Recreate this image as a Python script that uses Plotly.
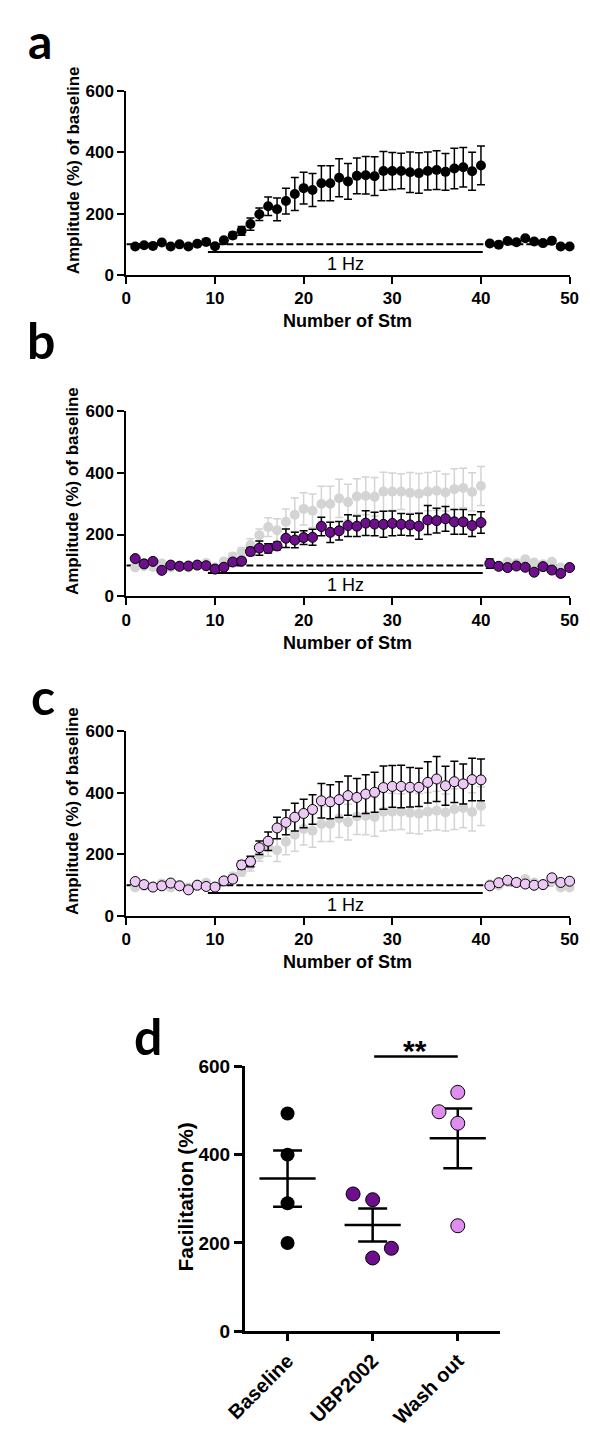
import plotly.graph_objects as go
import numpy as np

# ---------------- data ----------------
stim = list(range(1, 51))

ctrl_mean = [93, 97, 95, 106, 93, 100, 93, 102, 108, 94,
             113, 129, 144, 166, 198, 224, 214, 241, 264, 283,
             277, 299, 299, 317, 305, 323, 325, 322, 339, 339,
             339, 335, 332, 339, 342, 336, 347, 351, 338, 357,
             103, 99, 111, 107, 120, 109, 104, 112, 93, 93]
ctrl_sem = [4, 4, 4, 4, 4, 4, 4, 4, 4, 4,
            8, 10, 14, 20, 20, 30, 37, 42, 54, 52,
            54, 57, 57, 62, 58, 58, 61, 63, 63, 60,
            58, 66, 66, 62, 63, 60, 66, 64, 62, 63,
            5, 5, 5, 5, 5, 5, 5, 5, 5, 5]

ubp_mean = [122, 105, 113, 84, 101, 97, 98, 101, 99, 88,
            94, 111, 114, 145, 156, 155, 163, 188, 182, 190,
            191, 226, 207, 212, 229, 227, 237, 234, 233, 236,
            233, 231, 227, 247, 245, 251, 241, 241, 229, 239,
            106, 97, 93, 98, 94, 78, 96, 85, 74, 93]
ubp_sem = [4, 4, 4, 4, 4, 4, 4, 4, 4, 4,
           5, 8, 10, 13, 23, 15, 12, 30, 25, 22,
           26, 30, 33, 30, 35, 33, 40, 38, 42, 40,
           35, 35, 42, 47, 40, 40, 40, 40, 35, 35,
           15, 5, 5, 5, 5, 5, 5, 5, 5, 5]

wash_mean = [112, 102, 94, 98, 107, 98, 85, 100, 96, 94,
             114, 120, 166, 177, 222, 243, 286, 304, 321, 333,
             346, 374, 371, 378, 391, 385, 396, 402, 417, 421,
             421, 418, 418, 434, 445, 423, 436, 429, 443, 442,
             98, 108, 116, 109, 104, 100, 102, 124, 109, 113]
wash_sem = [4, 4, 4, 4, 4, 4, 4, 4, 4, 4,
            8, 10, 13, 17, 22, 30, 35, 40, 45, 46,
            48, 56, 55, 58, 64, 62, 63, 65, 70, 68,
            69, 64, 62, 67, 73, 63, 67, 65, 69, 68,
            5, 5, 5, 5, 5, 5, 5, 5, 5, 5]

baseline_level = 100
stim_bar_level = 75
stim_start, stim_end = 9.2, 40.2

d_categories = ["Baseline", "UBP2002", "Wash out"]
d_baseline = [493, 400, 290, 200]
d_ubp = [311, 298, 188, 166]
d_wash = [541, 497, 471, 239]
d_jitter = [[0, 0, 0, 0], [-0.23, 0, 0.22, 0], [0, -0.22, 0, 0]]
sig_level = 622
d_ymax = 600

# ---------------- styling ----------------
W, H = 590, 1432
FONT = "Liberation Sans, Arial, sans-serif"
BLACK = "#000000"
GRAY = "#D4D4D4"
PURPLE = "#6D0E8C"
LAVENDER = "#ECC8F4"
PINK = "#DF8EF0"


def px_x(p):
    return p / W


def px_y(p):
    return 1 - p / H


fig = go.Figure()

# panel geometry (pixels)
X_LEFT, X_RIGHT = 111, 578
panels = [  # (top, bottom) in px
    (82, 269),
    (407, 595),
    (732, 919.5),
]

axis_names = ["", "2", "3"]

for i, (top, bot) in enumerate(panels):
    n = axis_names[i]
    fig.layout["xaxis" + n] = dict(
        domain=[px_x(X_LEFT), px_x(X_RIGHT)], anchor="y" + n, range=[0, 50],
        tickvals=[0, 10, 20, 30, 40, 50], ticks="outside", ticklen=7, tickwidth=2,
        showline=True, linewidth=2, linecolor=BLACK, showgrid=False, zeroline=False,
        tickfont=dict(family=FONT, size=17, color=BLACK, weight="bold"), tickcolor=BLACK,
    )
    fig.layout["yaxis" + n] = dict(
        domain=[px_y(bot), px_y(top)], anchor="x" + n, range=[0, 600],
        tickvals=[0, 200, 400, 600], ticks="outside", ticklen=7, tickwidth=2,
        showline=True, linewidth=2, linecolor=BLACK, showgrid=False, zeroline=False,
        tickfont=dict(family=FONT, size=17, color=BLACK, weight="bold"), tickcolor=BLACK,
    )
    xr, yr = "x" + n, "y" + n
    # dashed baseline and stimulation bar
    fig.add_shape(type="line", xref=xr, yref=yr, x0=0, x1=50, y0=baseline_level, y1=baseline_level,
                  line=dict(color=BLACK, width=2, dash="7px,3px"), layer="below")
    fig.add_shape(type="line", xref=xr, yref=yr, x0=stim_start, x1=stim_end,
                  y0=stim_bar_level, y1=stim_bar_level, line=dict(color=BLACK, width=2), layer="below")
    fig.add_annotation(xref=xr, yref=yr, x=(stim_start + stim_end) / 2, y=36, text="1 Hz",
                       xanchor="center", yanchor="middle",
                       showarrow=False, font=dict(family=FONT, size=18, color=BLACK))
    # axis titles
    fig.add_annotation(xref="paper", yref="paper", x=px_x(55), y=px_y((top + bot) / 2 - 13),
                       xanchor="center", yanchor="middle",
                       text="Amplitude (%) of baseline", textangle=-90, showarrow=False,
                       font=dict(family=FONT, size=17, color=BLACK, weight="bold"))
    fig.add_annotation(xref="paper", yref="paper", x=px_x((X_LEFT + X_RIGHT) / 2), y=px_y(bot + 47),
                       xanchor="center", yanchor="middle",
                       text="Number of Stm", showarrow=False,
                       font=dict(family=FONT, size=18, color=BLACK, weight="bold"))


def series(xa, ya, y, err, color, err_color, outline):
    return go.Scatter(
        x=stim, y=y, xaxis=xa, yaxis=ya, mode="markers", showlegend=False, cliponaxis=False,
        marker=dict(size=10, color=color, line=dict(color=BLACK, width=1 if outline else 0)),
        error_y=dict(type="data", array=err, visible=True, color=err_color, thickness=1.5, width=4),
    )


# panel a
fig.add_trace(series("x", "y", ctrl_mean, ctrl_sem, BLACK, BLACK, False))
# panel b
fig.add_trace(series("x2", "y2", ctrl_mean, ctrl_sem, GRAY, GRAY, False))
fig.add_trace(series("x2", "y2", ubp_mean, ubp_sem, PURPLE, BLACK, True))
# panel c
fig.add_trace(series("x3", "y3", ctrl_mean, ctrl_sem, GRAY, GRAY, False))
fig.add_trace(series("x3", "y3", wash_mean, wash_sem, LAVENDER, BLACK, True))

# ---------------- panel d ----------------
D_LEFT, D_RIGHT, D_TOP, D_BOT = 236, 505, 1072, 1341
fig.layout["xaxis4"] = dict(
    domain=[px_x(D_LEFT), px_x(D_RIGHT)], anchor="y4", range=[-0.5, 2.5],
    tickvals=[0, 1, 2], ticktext=d_categories, tickangle=-45,
    ticks="outside", ticklen=7, tickwidth=3, tickcolor=BLACK,
    showline=True, linewidth=3, linecolor=BLACK, showgrid=False, zeroline=False,
    tickfont=dict(family=FONT, size=20, color=BLACK, weight="bold"),
)
fig.layout["yaxis4"] = dict(
    domain=[px_y(D_BOT), px_y(D_TOP)], anchor="x4", range=[0, d_ymax],
    tickvals=[0, 200, 400, 600], ticks="outside", ticklen=8, tickwidth=3, tickcolor=BLACK,
    showline=True, linewidth=3, linecolor=BLACK, showgrid=False, zeroline=False,
    tickfont=dict(family=FONT, size=19, color=BLACK, weight="bold"),
)

groups = [d_baseline, d_ubp, d_wash]
gcolors = [BLACK, PURPLE, PINK]
for gi, (vals, col) in enumerate(zip(groups, gcolors)):
    vals = np.array(vals, dtype=float)
    mean = vals.mean()
    sem = vals.std(ddof=1) / np.sqrt(len(vals))
    # mean line + sem
    fig.add_trace(go.Scatter(
        x=[gi - 0.33, gi + 0.33, None, gi, gi, None, gi - 0.17, gi + 0.17, None, gi - 0.17, gi + 0.17],
        y=[mean, mean, None, mean - sem, mean + sem, None, mean + sem, mean + sem, None, mean - sem, mean - sem],
        xaxis="x4", yaxis="y4", mode="lines", line=dict(color=BLACK, width=2.5), showlegend=False,
        hoverinfo="skip"))
    fig.add_trace(go.Scatter(
        x=[gi + j for j in d_jitter[gi]], y=vals, xaxis="x4", yaxis="y4", mode="markers",
        showlegend=False, cliponaxis=False,
        marker=dict(size=14, color=col, line=dict(color=BLACK, width=0 if gi == 0 else 1))))

sig_frac = sig_level / d_ymax  # position on y4 (domain fraction)
fig.add_annotation(xref="x4", yref="y4 domain", x=2, y=sig_frac, axref="x4", ax=1,
                   ayref="pixel", ay=0,
                   text="", showarrow=True, arrowhead=0, arrowwidth=2.5, arrowcolor=BLACK,
                   standoff=0, startstandoff=0)
fig.add_annotation(xref="x4", yref="y4 domain", x=1.5, y=sig_frac, yanchor="bottom",
                   xanchor="center", yshift=-12, text="**",
                   showarrow=False, font=dict(family=FONT, size=30, color=BLACK, weight="bold"))
fig.add_annotation(xref="paper", yref="paper", x=px_x(173), y=px_y(1205), text="Facilitation (%)",
                   xanchor="center", yanchor="middle",
                   textangle=-90, showarrow=False,
                   font=dict(family=FONT, size=21, color=BLACK, weight="bold"))

# panel letters (a is anchored to the top edge so its text box stays inside the page)
fig.add_annotation(xref="paper", yref="paper", x=px_x(20), y=1, xanchor="center", yanchor="top",
                   text="a", showarrow=False,
                   font=dict(family="Lato, Open Sans, sans-serif", size=48, color=BLACK, weight="bold"))
for letter, lx, ly in [("b", 21, 335), ("c", 23, 696), ("d", 134, 1041)]:
    fig.add_annotation(xref="paper", yref="paper", x=px_x(lx), y=px_y(ly), xanchor="center",
                       yanchor="middle", text=letter, showarrow=False,
                       font=dict(family="Lato, Open Sans, sans-serif", size=50, color=BLACK,
                                 weight="bold"))

fig.update_layout(width=W, height=H, margin=dict(l=0, r=0, t=0, b=0),
                  plot_bgcolor="white", paper_bgcolor="white", showlegend=False)

fig.write_html("out.html")
